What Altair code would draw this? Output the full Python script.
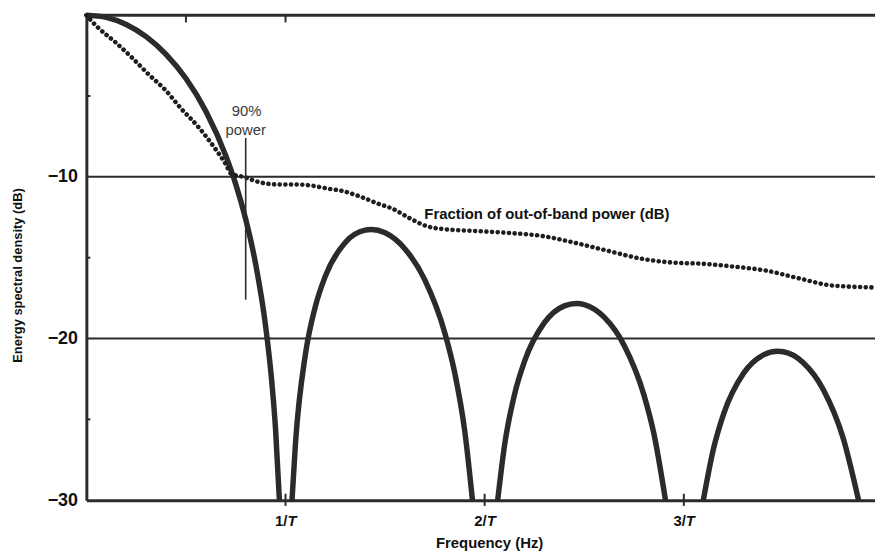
import altair as alt
import pandas as pd

# ---- Energy spectral density (dB), one list per lobe ----
lobe0_f = [0.0, 0.1, 0.2, 0.3, 0.4, 0.5, 0.6, 0.7, 0.75, 0.8, 0.85, 0.9, 0.93, 0.95, 0.9693]
lobe0_db = [0.0, -0.14, -0.58, -1.33, -2.42, -3.92, -5.94, -8.69, -10.45, -12.62, -15.39, -19.23, -22.54, -25.61, -30.0]
lobe1_f = [1.0326, 1.05, 1.1, 1.15, 1.2, 1.3, 1.4, 1.43, 1.5, 1.6, 1.7, 1.8, 1.85, 1.9, 1.9387]
lobe1_db = [-30.0, -26.48, -20.97, -18.01, -16.14, -14.06, -13.30, -13.26, -13.46, -14.46, -16.39, -19.66, -22.14, -25.72, -30.0]
lobe2_f = [2.0653, 2.1, 2.15, 2.2, 2.3, 2.4, 2.46, 2.5, 2.6, 2.7, 2.8, 2.85, 2.908]
lobe2_db = [-30.0, -26.59, -23.45, -21.41, -19.02, -17.98, -17.83, -17.90, -18.68, -20.41, -23.50, -25.90, -30.0]
lobe3_f = [3.0979, 3.15, 3.2, 3.3, 3.4, 3.47, 3.5, 3.6, 3.7, 3.8, 3.8775]
lobe3_db = [-30.0, -26.77, -24.66, -22.15, -21.01, -20.79, -20.82, -21.50, -23.15, -26.15, -30.0]

# ---- Fraction of out-of-band power (dB), dotted curve ----
oob_f = [0.0, 0.05, 0.149, 0.229, 0.313, 0.398, 0.478, 0.562, 0.647, 0.701, 0.726, 0.80, 0.826,
         0.876, 0.960, 1.045, 1.124, 1.209, 1.294, 1.373, 1.458, 1.542, 1.622, 1.706, 1.791,
         1.955, 2.119, 2.289, 2.453, 2.617, 2.786, 2.950, 3.085, 3.249, 3.413, 3.582, 3.746, 3.960]
oob_db = [0.0, -0.67, -1.71, -2.63, -3.67, -4.65, -5.81, -6.91, -8.26, -9.24, -9.80, -10.04, -10.16,
          -10.35, -10.47, -10.47, -10.53, -10.72, -10.90, -11.21, -11.63, -12.00, -12.55, -13.04, -13.23,
          -13.35, -13.47, -13.66, -14.08, -14.57, -15.06, -15.31, -15.37, -15.55, -15.80, -16.29, -16.72, -16.84]

# ---- reference lines, ticks and labels ----
grid_db = [-10, -20]
top_db = [0]
y_ticks = [-10, -20, -30]
x_ticks = [1, 2, 3]
x_tick_num = ["1/", "2/", "3/"]
x_tick_den = ["T", "T", "T"]
minor_left_db = [-5, -15, -25]
top_tick_f = [0.5, 1.0]
marker_f = [0.80]
marker_top = [-7.6]
marker_bottom = [-17.6]
ann_text = ["90%", "power"]
ann_f = [0.805, 0.80]
ann_db = [-5.95, -7.1]
curve_label = ["Fraction of out-of-band power (dB)"]
curve_label_f = [1.697]
curve_label_db = [-12.3]

INK = "#2b2b2b"
FONT = "Liberation Sans"

lobes = []
for i, (fs, ds) in enumerate([(lobe0_f, lobe0_db), (lobe1_f, lobe1_db), (lobe2_f, lobe2_db), (lobe3_f, lobe3_db)]):
    for f, d in zip(fs, ds):
        lobes.append({"f": f, "db": d, "lobe": i})
esd = pd.DataFrame(lobes)
oob = pd.DataFrame({"f": oob_f, "db": oob_db})

xscale = alt.Scale(domain=[0, 3.96], nice=False, zero=False)
yscale = alt.Scale(domain=[-30, 0], nice=False, zero=False)

x_enc = alt.X("f:Q", scale=xscale, axis=alt.Axis(
    values=x_ticks, labels=False, ticks=False, grid=False,
    domainWidth=3, domainColor=INK, title="Frequency (Hz)",
    titleFont=FONT, titleFontSize=15, titleFontWeight="bold", titleColor="#111",
    titlePadding=36, titleX=406))
y_enc = alt.Y("db:Q", scale=yscale, axis=alt.Axis(
    values=y_ticks, labelExpr="'\u2212' + abs(datum.value)", ticks=False, grid=False,
    domainWidth=3, domainColor=INK, labelFont=FONT, labelFontSize=18, labelFontWeight="bold",
    labelColor="#111", labelPadding=9,
    title="Energy spectral density (dB)", titleFont=FONT, titleFontSize=13,
    titleFontWeight="bold", titleColor="#111", titlePadding=23, titleY=262))

base_curve = alt.Chart(esd).mark_line(
    color=INK, strokeWidth=5.5, interpolate="monotone", strokeCap="butt"
).encode(x=x_enc, y=y_enc, detail="lobe:N")

grid = alt.Chart(pd.DataFrame({"db": grid_db})).mark_rule(color=INK, strokeWidth=2).encode(y=alt.Y("db:Q", scale=yscale))
top = alt.Chart(pd.DataFrame({"db": top_db})).mark_rule(color=INK, strokeWidth=3).encode(y=alt.Y("db:Q", scale=yscale))

bottom_ticks = alt.Chart(pd.DataFrame({"f": x_ticks})).mark_rule(color=INK, strokeWidth=2).encode(
    x=alt.X("f:Q", scale=xscale), y=alt.datum(-30.35), y2=alt.datum(-29.6))
top_ticks = alt.Chart(pd.DataFrame({"f": top_tick_f})).mark_rule(color=INK, strokeWidth=2).encode(
    x=alt.X("f:Q", scale=xscale), y=alt.datum(0), y2=alt.datum(-0.45))
left_ticks = alt.Chart(pd.DataFrame({"db": minor_left_db})).mark_rule(color=INK, strokeWidth=2).encode(
    y=alt.Y("db:Q", scale=yscale), x=alt.datum(0), x2=alt.datum(0.02))

dotted = alt.Chart(oob).mark_line(
    color="#1e1e1e", strokeWidth=4.6, strokeDash=[0.1, 5.6], strokeCap="round", interpolate="monotone"
).encode(x=alt.X("f:Q", scale=xscale), y=alt.Y("db:Q", scale=yscale))

marker = alt.Chart(pd.DataFrame({"f": marker_f, "top": marker_top, "bottom": marker_bottom})).mark_rule(
    color=INK, strokeWidth=1.6).encode(x=alt.X("f:Q", scale=xscale), y=alt.Y("top:Q", scale=yscale), y2="bottom:Q")

ann = alt.Chart(pd.DataFrame({"f": ann_f, "db": ann_db, "t": ann_text})).mark_text(
    font=FONT, fontSize=15, color="#3a3a3a", align="center", baseline="middle").encode(
    x=alt.X("f:Q", scale=xscale), y=alt.Y("db:Q", scale=yscale), text="t:N")

clabel = alt.Chart(pd.DataFrame({"f": curve_label_f, "db": curve_label_db, "t": curve_label})).mark_text(
    font=FONT, fontSize=15, fontWeight="bold", color="#111", align="left", baseline="middle").encode(
    x=alt.X("f:Q", scale=xscale), y=alt.Y("db:Q", scale=yscale), text="t:N")

tick_df = pd.DataFrame({"f": x_ticks, "num": x_tick_num, "den": x_tick_den, "db": [-30] * 3})
xlab_num = alt.Chart(tick_df).mark_text(
    font=FONT, fontSize=15, fontWeight="bold", color="#111", align="right", baseline="middle", dx=2, dy=21
).encode(x=alt.X("f:Q", scale=xscale), y=alt.Y("db:Q", scale=yscale), text="num:N")
xlab_den = alt.Chart(tick_df).mark_text(
    font=FONT, fontSize=15, fontWeight="bold", fontStyle="italic", color="#111", align="left",
    baseline="middle", dx=2, dy=21
).encode(x=alt.X("f:Q", scale=xscale), y=alt.Y("db:Q", scale=yscale), text="den:N")

chart = alt.layer(
    base_curve, grid, top, bottom_ticks, top_ticks, left_ticks, dotted, marker, ann, clabel, xlab_num, xlab_den
).properties(
    width=795, height=489,
    autosize=alt.AutoSizeParams(type="none"),
    padding={"left": 79, "top": 5, "right": 0, "bottom": 50},
    background="white",
).configure_view(stroke=None)

chart.save("out.html", embed_options={"renderer": "svg", "actions": False})
